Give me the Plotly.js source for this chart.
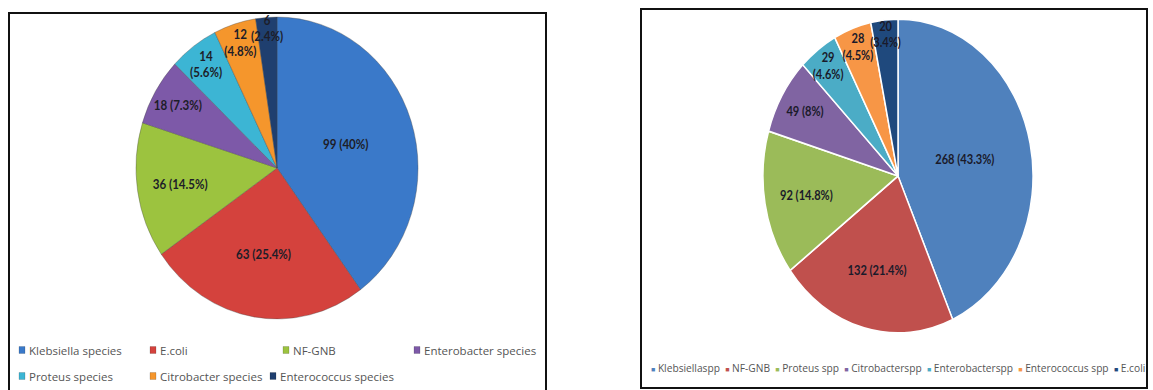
<!DOCTYPE html>
<html><head><meta charset="utf-8">
<script src="https://cdn.plot.ly/plotly-3.0.1.min.js"></script>
<style>html,body{margin:0;padding:0;background:#fff;} #chart{width:1153px;height:390px;}</style>
</head><body><div id="chart"></div>
<script>
// ---- Left chart data ----
const leftCategories = ['Klebsiella species','E.coli','NF-GNB','Enterobacter species','Proteus species','Citrobacter species','Enterococcus species'];
const leftValues = [99, 63, 36, 18, 14, 12, 6];
const leftPercentLabels = ['40', '25.4', '14.5', '7.3', '5.6', '4.8', '2.4'];
const leftColors = ['#3a79c9', '#d4423d', '#9cc33f', '#7d59a8', '#3cb5d4', '#f5962c', '#1f3f6f'];

// ---- Right chart data ----
const rightCategories = ['Klebsiellaspp','NF-GNB','Proteus spp','Citrobacterspp','Enterobacterspp','Enterococcus spp','E.coli'];
const rightValues = [268, 132, 92, 49, 29, 28, 20];
const rightPercentLabels = ['43.3', '21.4', '14.8', '8', '4.6', '4.5', '3.4'];
const rightColors = ['#4f81bd', '#c0504d', '#9bbb59', '#8064a2', '#4bacc6', '#f79646', '#1f497d'];

const W = 1153, H = 390;
const px = x => x / W;
const py = y => 1 - y / H;

function makeText(values, pcts) {
  const total = values.reduce((a, b) => a + b, 0);
  return values.map((v, i) => (v / total < 0.06) ? (v + '<br>(' + pcts[i] + '%)') : (v + ' (' + pcts[i] + '%)'));
}

// pie geometry: centre, base radius, and the elliptical stretch seen in the picture
const leftGeom = { cx: 277, cy: 168, r: 146, sx: 0.966, sy: 1.034 };
const rightGeom = { cx: 898, cy: 176, r: 146, sx: 0.925, sy: 1.075 };

function pieDomain(g) {
  return { x: [px(g.cx - g.r), px(g.cx + g.r)], y: [py(g.cy + g.r), py(g.cy - g.r)] };
}

const leftPie = {
  type: 'pie', values: leftValues, labels: leftCategories,
  text: makeText(leftValues, leftPercentLabels), textinfo: 'text',
  textposition: 'inside', insidetextorientation: 'horizontal',
  sort: false, direction: 'clockwise', rotation: 0,
  marker: { colors: leftColors, line: { color: 'rgba(70,70,70,0.45)', width: 0.8 } },
  textfont: { family: 'Lato, Open Sans, sans-serif', size: 12, color: '#1d1d28', weight: 700 },
  domain: pieDomain(leftGeom),
  showlegend: false, hoverinfo: 'none'
};

const rightPie = {
  type: 'pie', values: rightValues, labels: rightCategories,
  text: makeText(rightValues, rightPercentLabels), textinfo: 'text',
  textposition: 'inside', insidetextorientation: 'horizontal',
  sort: false, direction: 'clockwise', rotation: 0,
  marker: { colors: rightColors, line: { color: '#ffffff', width: 1.6 } },
  textfont: { family: 'Lato, Open Sans, sans-serif', size: 12, color: '#1a1a2a', weight: 700 },
  domain: pieDomain(rightGeom),
  showlegend: false, hoverinfo: 'none'
};

const shapes = [
  { type: 'rect', xref: 'paper', yref: 'paper', x0: px(9), x1: px(546), y0: py(13), y1: py(400), line: { color: '#111', width: 2 }, fillcolor: 'rgba(0,0,0,0)', layer: 'below' },
  { type: 'rect', xref: 'paper', yref: 'paper', x0: px(641), x1: px(1147), y0: py(9), y1: py(388), line: { color: '#111', width: 2 }, fillcolor: 'rgba(0,0,0,0)', layer: 'below' }
];
const annotations = [];

// left legend grid (2 rows)
const leftLegendX = [[19, 150, 283, 414], [19, 150, 270]];
const leftLegendY = [350, 376];
let k = 0;
leftLegendX.forEach((row, r) => {
  row.forEach(x => {
    if (k >= leftCategories.length) return;
    shapes.push({ type: 'rect', xref: 'paper', yref: 'paper', x0: px(x), x1: px(x + 6), y0: py(leftLegendY[r] - 3.5), y1: py(leftLegendY[r] + 3.5), line: { width: 0.5, color: 'rgba(0,0,0,0.3)' }, fillcolor: leftColors[k] });
    annotations.push({ xref: 'paper', yref: 'paper', x: px(x + 8), y: py(leftLegendY[r]), xanchor: 'left', yanchor: 'middle', showarrow: false, text: leftCategories[k], font: { family: 'Open Sans, sans-serif', size: 11.5, color: '#555' } });
    k++;
  });
});

// right legend (single flowing row)
const rightLegendText = rightCategories.map((c, i) => '<span style="color:' + rightColors[i] + ';font-size:7px">■</span> ' + c).join(' &nbsp;');
annotations.push({ xref: 'paper', yref: 'paper', x: px(649), y: py(368), xanchor: 'left', yanchor: 'middle', showarrow: false, text: rightLegendText, font: { family: 'Open Sans, sans-serif', size: 10.2, color: '#555' } });

const layout = {
  width: W, height: H, margin: { l: 0, r: 0, t: 0, b: 0 },
  paper_bgcolor: '#fff', plot_bgcolor: '#fff',
  shapes: shapes, annotations: annotations,
  uniformtext: { mode: 'show', minsize: 12 },
  showlegend: false
};

Plotly.newPlot('chart', [leftPie, rightPie], layout, { staticPlot: true }).then(gd => {
  const geoms = [leftGeom, rightGeom];
  gd.querySelectorAll('.pielayer .trace').forEach((g, i) => {
    const s = geoms[i];
    if (!s) return;
    g.setAttribute('transform', 'translate(' + s.cx + ',' + s.cy + ') scale(' + s.sx + ',' + s.sy + ') translate(' + (-s.cx) + ',' + (-s.cy) + ')');
  });
});
</script>
</body></html>
